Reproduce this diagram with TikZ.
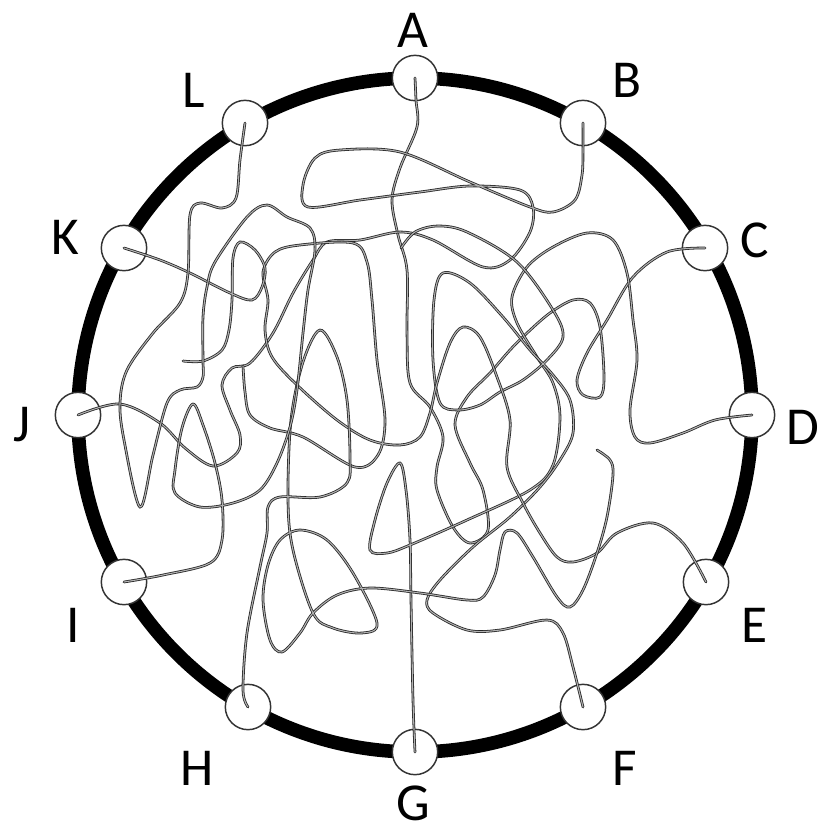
\documentclass[tikz,border=0pt]{standalone}
\usepackage{fontspec}
\setmainfont{Carlito}
\begin{document}
\begin{tikzpicture}[x=0.75pt,y=-0.75pt,
  ring/.style={line width=10.2pt,draw=black},
  port/.style={circle,draw=black!80,line width=1.1pt,fill=white,minimum size=34pt,inner sep=0pt},
  lbl/.style={font=\fontsize{40}{44}\selectfont},
  strand/.style={draw=black!85,line width=0.6pt,double=gray!60,double distance=0.8pt,line cap=round}]
\useasboundingbox (0,0) rectangle (823,833);
\fill[white] (0,0) rectangle (823,833);
\coordinate (ctr) at (415,415);
\draw[ring] (ctr) circle[radius=337];
% ports
\node[port] (nA) at (415,78) {};
\node[port] (nB) at (583,123) {};
\node[port] (nC) at (705,248) {};
\node[port] (nD) at (752,415) {};
\node[port] (nE) at (706,582) {};
\node[port] (nF) at (583,707) {};
\node[port] (nG) at (415,752) {};
\node[port] (nH) at (248,707) {};
\node[port] (nI) at (124,582) {};
\node[port] (nJ) at (78,415) {};
\node[port] (nK) at (124,248) {};
\node[port] (nL) at (245,123) {};
% labels
\node[lbl] (tA) at (413,30) {A};
\node[lbl] (tB) at (627,80) {B};
\node[lbl] (tC) at (755,240) {C};
\node[lbl] (tD) at (803,427) {D};
\node[lbl] (tE) at (755,625) {E};
\node[lbl] (tF) at (625,768) {F};
\node[lbl] (tG) at (413,803) {G};
\node[lbl] (tH) at (197,768) {H};
\node[lbl] (tI) at (73,625) {I};
\node[lbl] (tJ) at (22,425) {J};
\node[lbl] (tK) at (65,237) {K};
\node[lbl] (tL) at (194,90) {L};
% strands
% A -- C
\draw[strand] plot[smooth,tension=0.55] coordinates {(nA.center) (416,100) (417,127) (400,168) (392,200) (398,235) (407,270) (407,333) (410,383) (430,407) (443,437) (437,467) (437,490) (453,527) (470,543) (488,530) (483,490) (470,463) (455,425) (467,397) (490,373) (510,350) (527,333) (550,313) (573,300) (590,303) (600,327) (604,377) (600,397) (583,395) (577,380) (587,353) (607,320) (633,277) (667,252) (nC.center)};
% B -- J
\draw[strand] plot[smooth,tension=0.55] coordinates {(nB.center) (583,150) (582,175) (575,200) (553,212) (530,207) (470,182) (400,152) (340,150) (315,158) (303,185) (308,207) (360,200) (420,192) (470,186) (520,190) (533,207) (530,232) (510,260) (483,267) (433,240) (400,232) (360,240) (327,242) (313,260) (293,293) (273,333) (250,363) (232,368) (222,385) (230,410) (240,435) (237,453) (213,466) (185,448) (160,423) (120,404) (nJ.center)};
% G -- D
\draw[strand] plot[smooth,tension=0.55] coordinates {(nG.center) (413,700) (411,600) (410,540) (406,490) (400,463) (387,483) (375,520) (370,550) (387,553) (410,545) (467,520) (530,490) (553,465) (560,417) (553,383) (537,357) (517,323) (512,297) (527,267) (553,247) (587,233) (613,240) (627,273) (633,320) (637,360) (630,410) (635,437) (650,443) (683,433) (715,420) (nD.center)};
% F
\draw[strand] plot[smooth,tension=0.55] coordinates {(nF.center) (573,667) (563,633) (547,620) (500,630) (467,630) (433,613) (427,600) (440,580) (473,547) (510,517) (540,487) (560,460) (573,433) (570,400) (553,375) (530,350) (503,317) (470,283) (443,273) (434,300) (433,360) (440,403) (458,410) (480,405) (500,392) (523,380) (547,360) (563,337) (553,310) (517,262) (467,232) (438,226) (415,232) (401,248)};
% E
\draw[strand] plot[smooth,tension=0.55] coordinates {(nE.center) (683,543) (653,523) (617,533) (597,553) (573,562) (557,557) (540,533) (523,503) (507,467) (510,420) (497,377) (480,337) (463,327) (450,343) (437,383) (430,413) (420,437) (400,445) (370,440) (337,420) (297,385) (272,357) (265,330) (268,300) (263,272) (275,252) (300,245) (353,243) (367,262) (372,300) (377,360) (385,420) (378,455) (355,467) (303,437) (270,428) (250,415) (245,392) (243,366)};
% H (free end inside)
\draw[strand] plot[smooth,tension=0.55] coordinates {(nH.center) (243,690) (247,633) (260,567) (267,533) (268,507) (280,497) (320,497) (347,483) (350,457) (347,400) (337,357) (320,330) (303,362) (291,420) (288,500) (293,550) (313,613) (333,628) (362,633) (377,623) (353,573) (327,540) (300,530) (280,540) (268,565) (263,600) (270,640) (282,652) (300,633) (313,613) (337,595) (370,588) (420,593) (467,600) (483,597) (495,575) (500,550) (505,532) (517,533) (533,557) (557,597) (570,607) (583,590) (597,553) (607,517) (613,475) (610,460) (597,450)};
% K (free end inside)
\draw[strand] plot[smooth,tension=0.55] coordinates {(nK.center) (160,260) (190,273) (230,293) (252,300) (262,287) (265,268) (255,250) (240,242) (233,258) (232,300) (229,330) (222,350) (203,361) (183,361)};
% L -- I
\draw[strand] plot[smooth,tension=0.55] coordinates {(nL.center) (240,160) (236,198) (222,208) (200,203) (190,215) (188,273) (180,303) (153,333) (127,370) (120,403) (124,440) (140,507) (153,455) (167,403) (180,390) (197,387) (203,377) (203,360) (203,317) (207,287) (215,262) (247,217) (267,205) (287,217) (310,228) (315,250) (308,290) (303,333) (297,390) (290,427) (277,463) (260,490) (233,503) (200,507) (175,493) (175,470) (182,428) (193,404) (203,425) (215,463) (222,500) (222,540) (210,563) (163,575) (nI.center)};
\end{tikzpicture}
\end{document}
